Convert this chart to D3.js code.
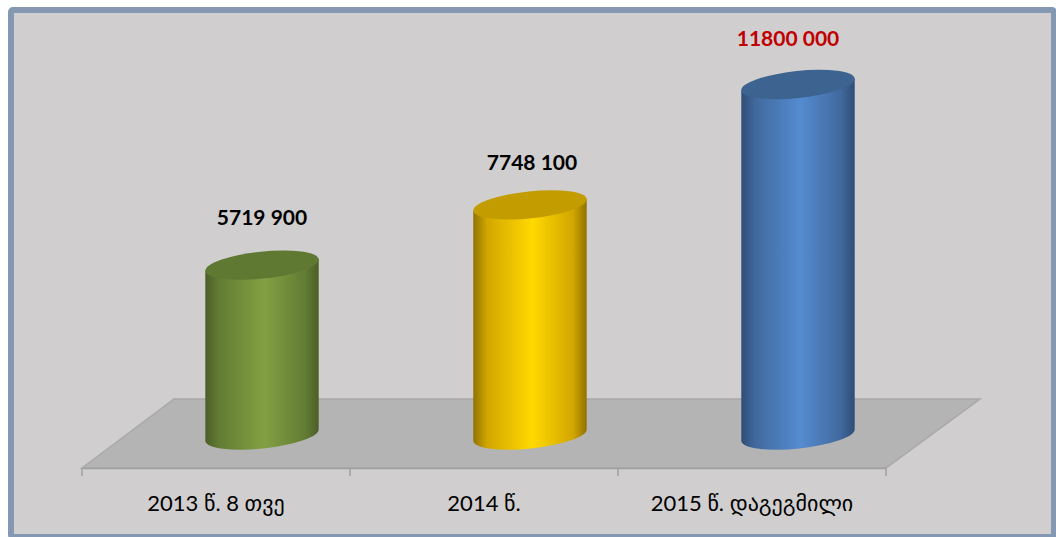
<!DOCTYPE html>
<html>
<head>
<meta charset="utf-8">
<script src="https://cdn.jsdelivr.net/npm/d3@7"></script>
<style>
  html, body { margin: 0; padding: 0; background: #fff; overflow: hidden; }
  svg { display: block; }
  text { font-family: Lato, "Noto Sans", "DejaVu Sans", sans-serif; }
</style>
</head>
<body>
<div id="chart"></div>
<script>
const categories = ['2013 წ. 8 თვე', '2014 წ.', '2015 წ. დაგეგმილი']
const values = [5719900, 7748100, 11800000]
const valueLabels = ['5719 900', '7748 100', '11800 000']
const labelColors = ['#000000', '#000000', '#c00000']
const edgeColors = ['#4c5e28', '#8f7200', '#2f4d75']
const shadeColors = ['#627c33', '#d2a600', '#41699d']
const lightColors = ['#82a043', '#ffd900', '#558bd0']
const topColors = ['#5e7833', '#c39c00', '#3c6391']

const width = 1056, height = 537
const svg = d3.select('#chart')
  .append('svg')
  .attr('width', width)
  .attr('height', height)

// frame
svg.append('rect')
  .attr('x', 11).attr('y', 10)
  .attr('width', 1043).attr('height', 527)
  .attr('rx', 2)
  .attr('fill', '#d0cecf')
  .attr('stroke', '#8598b3')
  .attr('stroke-width', 6)

const frontY = 468, backY = 399, depth = 92
const xScale = d3.scaleBand().domain(categories).range([82, 886])
const yScale = d3.scaleLinear().domain([0, 11800000]).range([435, 84.5])

// floor of the 3d plot
svg.append('path')
  .attr('d', d3.line()([[82, frontY], [82 + depth, backY], [886 + depth + 2, backY], [886, frontY]]) + 'Z')
  .attr('fill', '#b4b4b4')
  .attr('stroke', '#a8a8a8')
  .attr('stroke-width', 1.5)

const xAxis = d3.axisBottom(xScale).tickValues([]).tickSize(0).tickSizeOuter(0)
const axisG = svg.append('g')
  .attr('transform', `translate(0,${frontY})`)
  .call(xAxis)
axisG.select('.domain').attr('stroke', '#a0a0a0').attr('stroke-width', 1.5)

// ticks sit between the categories
const tickXs = [...categories.map(c => xScale(c)), xScale.range()[1]]
axisG.selectAll('line.sep')
  .data(tickXs)
  .enter()
  .append('line')
  .attr('class', 'sep')
  .attr('x1', d => d).attr('x2', d => d)
  .attr('y1', 0).attr('y2', 8)
  .attr('stroke', '#a0a0a0')
  .attr('stroke-width', 1.5)

svg.selectAll('text.cat')
  .data(categories)
  .enter()
  .append('text')
  .attr('class', 'cat')
  .attr('x', d => xScale(d) + xScale.bandwidth() / 2)
  .attr('y', 511)
  .attr('text-anchor', 'middle')
  .attr('font-size', 22)
  .attr('fill', '#000')
  .text(d => d)

const defs = svg.append('defs')
categories.forEach((c, i) => {
  const g = defs.append('linearGradient')
    .attr('id', 'bar' + i)
    .attr('x1', 0).attr('x2', 1).attr('y1', 0).attr('y2', 0)
  g.append('stop').attr('offset', '0%').attr('stop-color', edgeColors[i])
  g.append('stop').attr('offset', '12%').attr('stop-color', shadeColors[i])
  g.append('stop').attr('offset', '52%').attr('stop-color', lightColors[i])
  g.append('stop').attr('offset', '88%').attr('stop-color', shadeColors[i])
  g.append('stop').attr('offset', '100%').attr('stop-color', edgeColors[i])
})
defs.append('filter')
  .attr('id', 'soft')
  .append('feGaussianBlur')
  .attr('stdDeviation', 0.5)

const rx = 57, ry = 13.5, tilt = -6
const dx = rx * Math.cos(tilt * Math.PI / 180)
const dy = rx * Math.sin(tilt * Math.PI / 180)
const barX = c => xScale(c) + xScale.bandwidth() / 2 + depth / 2

const bars = svg.selectAll('g.bar')
  .data(categories)
  .enter()
  .append('g')
  .attr('class', 'bar')
  .attr('filter', 'url(#soft)')

bars.append('path')
  .attr('fill', (d, i) => `url(#bar${i})`)
  .attr('d', (d, i) => {
    const cx = barX(d), top = yScale(values[i]), base = yScale(0)
    return `M${cx - dx},${top - dy} L${cx + dx},${top + dy} L${cx + dx},${base + dy}` +
      ` A${rx},${ry} ${tilt} 0 1 ${cx - dx},${base - dy} Z`
  })

bars.append('ellipse')
  .attr('rx', rx)
  .attr('ry', ry)
  .attr('fill', (d, i) => topColors[i])
  .attr('transform', (d, i) => `translate(${barX(d)},${yScale(values[i])}) rotate(${tilt})`)

// labels do not sit exactly over the cylinders in the original
const nudgeX = [0, 2, -10], gapY = [40, 35, 38.5]
svg.selectAll('text.val')
  .data(valueLabels)
  .enter()
  .append('text')
  .attr('class', 'val')
  .attr('x', (d, i) => barX(categories[i]) + nudgeX[i])
  .attr('y', (d, i) => yScale(values[i]) - gapY[i])
  .attr('text-anchor', 'middle')
  .attr('font-size', 21)
  .attr('font-weight', 700)
  .attr('fill', (d, i) => labelColors[i])
  .text(d => d)
</script>
</body>
</html>
